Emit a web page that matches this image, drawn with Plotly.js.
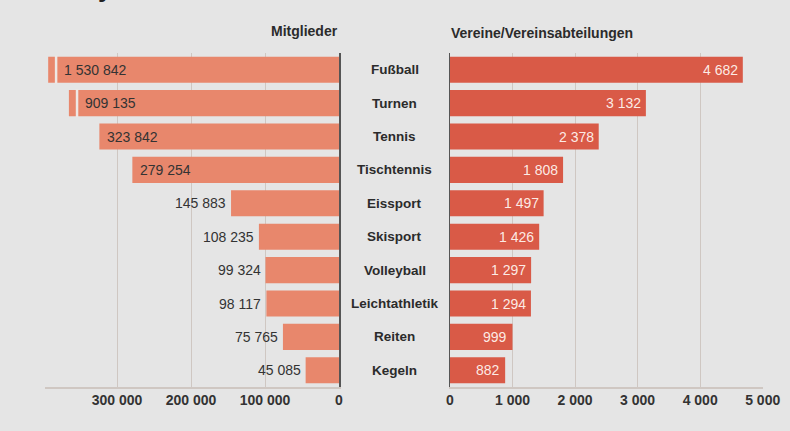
<!DOCTYPE html>
<html>
<head>
<meta charset="utf-8">
<script src="https://cdn.plot.ly/plotly-3.0.1.min.js"></script>
<style>
html,body{margin:0;padding:0;background:#e5e5e5;}
#chart{width:790px;height:431px;}
</style>
</head>
<body>
<div id="chart"></div>
<script>
// ---- data ----
const sports = ["Fußball","Turnen","Tennis","Tischtennis","Eissport","Skisport","Volleyball","Leichtathletik","Reiten","Kegeln"];
const members = [1530842, 909135, 323842, 279254, 145883, 108235, 99324, 98117, 75765, 45085];
const clubs = [4682, 3132, 2378, 1808, 1497, 1426, 1297, 1294, 999, 882];
// broken (truncated) bars on the members axis: shown length and break mark
const brokenShown = [393000, 365000, null, null, null, null, null, null, null, null];
const brokenMark  = [382300, 354000, null, null, null, null, null, null, null, null];
const memberTicks = [0, 100000, 200000, 300000];
const memberTickText = ["0", "100 000", "200 000", "300 000"];
const clubTicks = [0, 1000, 2000, 3000, 4000, 5000];
const clubTickText = ["0", "1 000", "2 000", "3 000", "4 000", "5 000"];

const fmt = v => String(v).replace(/\B(?=(\d{3})+(?!\d))/g, " ");

const W = 790, H = 431;
const BG = "#e5e5e5";
const GRID = "#cfc7c2";
const FONT = "Liberation Sans, Arial, sans-serif";
const leftColor = "#e8876c";
const rightColor = "#d95a47";

const shown = members.map((v, i) => brokenShown[i] != null ? brokenShown[i] : v);
const insideLimit = 200000;

const traces = [
  {type: "bar", orientation: "h", x: shown, y: sports, xaxis: "x", yaxis: "y",
   marker: {color: leftColor}, hoverinfo: "skip"},
  {type: "bar", orientation: "h", x: clubs, y: sports, xaxis: "x2", yaxis: "y2",
   marker: {color: rightColor}, hoverinfo: "skip"}
];

const annotations = [];
const shapes = [];
sports.forEach((s, i) => {
  annotations.push({xref: "paper", yref: "y", x: 394.5 / W, y: s, text: s,
    showarrow: false, xanchor: "center", yanchor: "middle",
    font: {family: FONT, size: 13.5, color: "#2b2b2b", weight: "bold"}});
  // member labels
  if (brokenMark[i] != null) {
    annotations.push({xref: "x", yref: "y", x: brokenMark[i], y: s, text: fmt(members[i]),
      showarrow: false, xanchor: "left", yanchor: "middle", xshift: 6,
      font: {family: FONT, size: 14, color: "#333"}});
    shapes.push({type: "line", xref: "x", yref: "y", x0: brokenMark[i], x1: brokenMark[i],
      y0: i - 0.42, y1: i + 0.42, line: {color: "#eee8e5", width: 2.5}});
  } else if (members[i] > insideLimit) {
    annotations.push({xref: "x", yref: "y", x: members[i], y: s, text: fmt(members[i]),
      showarrow: false, xanchor: "left", yanchor: "middle", xshift: 6,
      font: {family: FONT, size: 14, color: "#333"}});
  } else {
    annotations.push({xref: "x", yref: "y", x: members[i], y: s, text: fmt(members[i]),
      showarrow: false, xanchor: "right", yanchor: "middle", xshift: -3,
      font: {family: FONT, size: 14, color: "#333"}});
  }
  // club labels
  annotations.push({xref: "x2", yref: "y2", x: clubs[i], y: s, text: fmt(clubs[i]),
    showarrow: false, xanchor: "right", yanchor: "middle", xshift: -3,
    font: {family: FONT, size: 14, color: "rgba(255,245,240,0.95)"}});
});

annotations.push({xref: "paper", yref: "paper", x: 339.5 / W, y: 1 - 31 / H, text: "Mitglieder",
  showarrow: false, xanchor: "right", yanchor: "middle",
  font: {family: FONT, size: 14, color: "#2b2b2b", weight: "bold"}});
annotations.push({xref: "paper", yref: "paper", x: 449 / W, y: 1 - 33 / H, text: "Vereine/Vereinsabteilungen",
  showarrow: false, xanchor: "left", yanchor: "middle",
  font: {family: FONT, size: 14, color: "#2b2b2b", weight: "bold"}});
// remnant of a cut-off headline at the very top
annotations.push({xref: "paper", yref: "paper", x: 96 / W, y: 1 + 12 / H, text: "y",
  showarrow: false, xanchor: "left", yanchor: "middle",
  font: {family: FONT, size: 26, color: "#222", weight: "bold"}});

const yDomain = [1 - 387 / H, 1 - 53 / H];
const tickFont = {family: FONT, size: 14, color: "#333", weight: "bold"};

const layout = {
  width: W, height: H,
  margin: {l: 0, r: 0, t: 0, b: 0, pad: 0},
  paper_bgcolor: BG, plot_bgcolor: BG,
  showlegend: false,
  bargap: 0.22,
  xaxis: {domain: [45 / W, 339 / W], range: [397300, 0], anchor: "y",
    tickvals: memberTicks, ticktext: memberTickText, tickfont: tickFont,
    showgrid: true, gridcolor: GRID, gridwidth: 1, zeroline: false,
    showline: true, linecolor: GRID, linewidth: 1.5, ticks: "", fixedrange: true},
  yaxis: {domain: yDomain, type: "category", categoryarray: sports, autorange: "reversed",
    anchor: "x", side: "right", showline: true, linecolor: "#555", linewidth: 1.5,
    showticklabels: false, showgrid: false, zeroline: false, ticks: "", fixedrange: true},
  xaxis2: {domain: [450 / W, 762.7 / W], range: [0, 5000], anchor: "y2",
    tickvals: clubTicks, ticktext: clubTickText, tickfont: tickFont,
    showgrid: true, gridcolor: GRID, gridwidth: 1, zeroline: false,
    showline: true, linecolor: GRID, linewidth: 1.5, ticks: "", fixedrange: true},
  yaxis2: {domain: yDomain, type: "category", categoryarray: sports, autorange: "reversed",
    anchor: "x2", side: "left", showline: true, linecolor: "#555", linewidth: 1.5,
    showticklabels: false, showgrid: false, zeroline: false, ticks: "", fixedrange: true},
  annotations: annotations,
  shapes: shapes
};

Plotly.newPlot("chart", traces, layout, {displayModeBar: false, staticPlot: true});
</script>
</body>
</html>
